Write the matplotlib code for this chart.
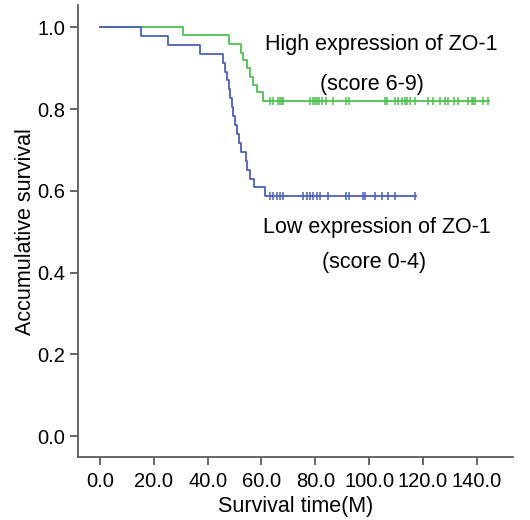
import numpy as np
import matplotlib
matplotlib.use("Agg")
import matplotlib.pyplot as plt

plt.rcParams["font.family"] = ["Liberation Sans", "DejaVu Sans"]

# Kaplan-Meier steps (time in months, survival)
high_times = [0.0, 30.7, 48.0, 52.3, 53.2, 54.5, 55.8, 57.0, 58.2, 60.5, 144.6]
high_surv = [1.0, 0.98, 0.958, 0.938, 0.92, 0.90, 0.878, 0.86, 0.842, 0.82, 0.82]
high_censor = [63.2, 64.4, 66.3, 66.9, 67.5, 68.1, 78.1, 79.3, 79.9, 80.6, 81.5,
               82.4, 84.0, 86.7, 91.4, 92.7, 105.9, 106.8, 109.7, 110.9, 112.2,
               113.4, 114.0, 115.2, 117.1, 122.0, 123.9, 126.4, 128.3, 129.5,
               131.4, 133.2, 136.9, 138.2, 138.8, 139.4, 142.5, 144.3]

low_times = [0.0, 15.1, 25.4, 37.2, 45.8, 46.5, 47.3, 47.8, 48.3, 49.0, 49.5,
             50.2, 51.0, 51.8, 52.5, 54.3, 54.8, 55.8, 57.4, 61.3, 117.5]
low_surv = [1.0, 0.978, 0.957, 0.935, 0.913, 0.891, 0.870, 0.848, 0.826, 0.804,
            0.783, 0.761, 0.739, 0.717, 0.696, 0.674, 0.652, 0.630, 0.609, 0.587,
            0.587]
low_censor = [63.2, 64.4, 65.6, 66.9, 68.1, 75.6, 76.8, 78.1, 79.3, 80.6, 81.8,
              84.9, 91.4, 92.7, 97.9, 98.5, 102.2, 104.7, 107.2, 109.7, 117.1]

x_ticks = [0, 20, 40, 60, 80, 100, 120, 140]
y_ticks = [0.0, 0.2, 0.4, 0.6, 0.8, 1.0]

GREEN = "#4cc24c"
BLUE = "#4a5fc1"
AXIS = "#5a5a5a"
TICK_FS = 14.5
LABEL_FS = 15.5

fig = plt.figure(figsize=(5.3, 5.2), dpi=100)
ax = fig.add_axes([0.147, 0.121, 0.821, 0.869])


def km_curve(times, surv, censor, color):
    ax.step(times, surv, where="post", color=color, linewidth=1.3)
    cy = [surv[np.searchsorted(times, c, side="right") - 1] for c in censor]
    ax.plot(censor, cy, linestyle="none", marker="|", markersize=6,
            markeredgewidth=1.1, color=color)


km_curve(high_times, high_surv, high_censor, GREEN)
km_curve(low_times, low_surv, low_censor, BLUE)

ax.set_xlim(-8.2, 153.5)
ax.set_ylim(-0.051, 1.054)
ax.set_xticks(x_ticks)
ax.set_xticklabels([f"{t:.1f}" for t in x_ticks])
ax.set_yticks(y_ticks)
ax.set_yticklabels([f"{t:.1f}" for t in y_ticks])

for side in ["top", "right"]:
    ax.spines[side].set_visible(False)
for side in ["left", "bottom"]:
    ax.spines[side].set_color(AXIS)
    ax.spines[side].set_linewidth(1.3)
ax.tick_params(direction="out", length=6, width=1.3, color=AXIS,
               labelsize=TICK_FS, pad=3)
ax.tick_params(axis="x", pad=5)

ax.set_xlabel("Survival time(M)", fontsize=LABEL_FS, labelpad=3)
ax.set_ylabel("Accumulative survival", fontsize=LABEL_FS, labelpad=1)

ax.text(61.3, 0.944, "High expression of ZO-1", fontsize=LABEL_FS, va="baseline")
ax.text(81.8, 0.846, "(score 6-9)", fontsize=LABEL_FS, va="baseline")
ax.text(60.6, 0.496, "Low expression of ZO-1", fontsize=LABEL_FS, va="baseline")
ax.text(82.5, 0.411, "(score 0-4)", fontsize=LABEL_FS, va="baseline")

fig.savefig("out.png", dpi=100)
